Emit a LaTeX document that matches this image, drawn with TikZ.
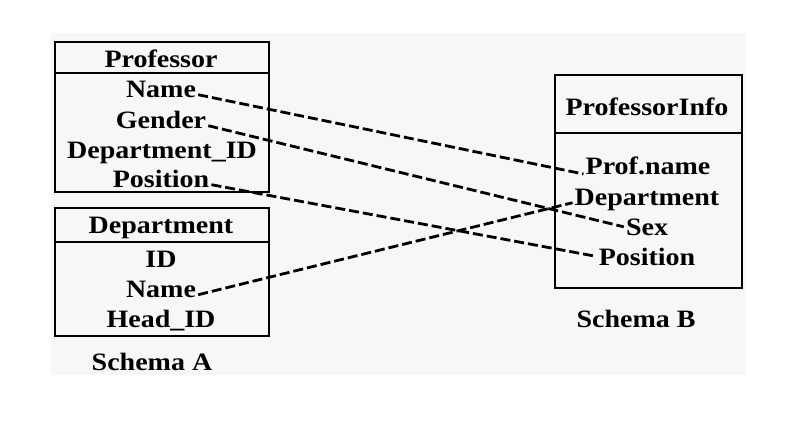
\documentclass[tikz,border=0pt]{standalone}
\usepackage{fontspec}
\setmainfont{Liberation Serif}[FakeStretch=1.12]
\usepackage{xcolor}
\definecolor{bggray}{RGB}{247,247,247}

\begin{document}
\begin{tikzpicture}[x=1pt,y=-1pt,
    box/.style={draw,line width=2.2pt,inner sep=0pt},
    field/.style={font=\fontsize{25}{30}\selectfont\bfseries,inner sep=2pt,anchor=base},
    link/.style={line width=2.8pt,dash pattern=on 10pt off 4pt}]
    \useasboundingbox (0,0) rectangle (794,421);
    \fill[bggray] (51,33) rectangle (746,375);

    % Schema A
    \node[box,minimum width=214pt,minimum height=31pt] (proftop) at (162,57.5) {};
    \node[box,minimum width=214pt,minimum height=119pt] (profbody) at (162,132.5) {};
    \node[field] (ptitle) at (161,67) {Professor};
    \node[field] (pname) at (161,97) {Name};
    \node[field] (pgender) at (161,128) {Gender};
    \node[field] (pdeptid) at (162,158) {Department\_ID};
    \node[field] (pposition) at (161,187) {Position};

    \node[box,minimum width=214pt,minimum height=34pt] (depttop) at (162,225) {};
    \node[box,minimum width=214pt,minimum height=94pt] (deptbody) at (162,289) {};
    \node[field] (dtitle) at (161,233) {Department};
    \node[field] (did) at (161,267) {ID};
    \node[field] (dname) at (161,297) {Name};
    \node[field] (dhead) at (161,327) {Head\_ID};
    \node[field] (schemaA) at (152,370) {Schema A};

    % Schema B
    \node[box,minimum width=187pt,minimum height=58pt] (infotop) at (648.5,104) {};
    \node[box,minimum width=187pt,minimum height=155pt] (infobody) at (648.5,210.5) {};
    \node[field] (ititle) at (647,115) {ProfessorInfo};
    \node[field] (iname) at (648,174) {Prof.name};
    \node[field] (idept) at (647,205) {Department};
    \node[field] (isex) at (647,235) {Sex};
    \node[field] (iposition) at (647,265) {Position};
    \node[field] (schemaB) at (636,327) {Schema B};

    % mappings
    \draw[link] (pname.mid east) -- (iname.base west);
    \draw[link] (pgender.mid east) -- (isex.west);
    \draw[link] (pposition.mid east) -- (iposition.west);
    \draw[link] (dname.mid east) -- (idept.mid west);
\end{tikzpicture}
\end{document}
